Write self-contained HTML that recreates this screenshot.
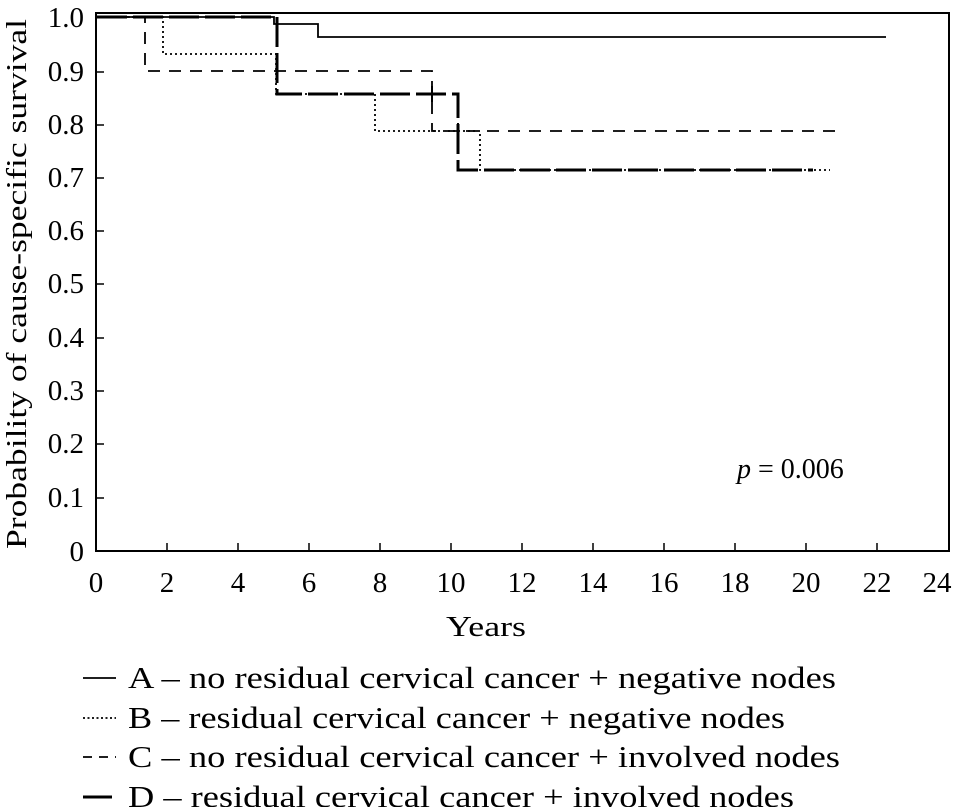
<!DOCTYPE html>
<html><head><style>body{margin:0;background:#fff}</style></head><body>
<svg width="954" height="807" xmlns="http://www.w3.org/2000/svg" font-family="Liberation Serif, serif" fill="#000">
<rect x="96" y="13" width="853" height="538" fill="none" stroke="#000" stroke-width="2"/>
<g stroke="#000" stroke-width="1.5">
<line x1="96" y1="498" x2="104" y2="498"/><line x1="96" y1="444" x2="104" y2="444"/><line x1="96" y1="391" x2="104" y2="391"/><line x1="96" y1="338" x2="104" y2="338"/><line x1="96" y1="284" x2="104" y2="284"/><line x1="96" y1="231" x2="104" y2="231"/><line x1="96" y1="178" x2="104" y2="178"/><line x1="96" y1="125" x2="104" y2="125"/><line x1="96" y1="72" x2="104" y2="72"/>
<line x1="167" y1="551" x2="167" y2="543"/><line x1="238" y1="551" x2="238" y2="543"/><line x1="309" y1="551" x2="309" y2="543"/><line x1="380" y1="551" x2="380" y2="543"/><line x1="451" y1="551" x2="451" y2="543"/><line x1="522" y1="551" x2="522" y2="543"/><line x1="593" y1="551" x2="593" y2="543"/><line x1="664" y1="551" x2="664" y2="543"/><line x1="735" y1="551" x2="735" y2="543"/><line x1="806" y1="551" x2="806" y2="543"/><line x1="877" y1="551" x2="877" y2="543"/>
</g>
<g font-size="29" text-anchor="end">
<text x="84" y="27">1.0</text><text x="84" y="81">0.9</text><text x="84" y="134">0.8</text><text x="84" y="187">0.7</text><text x="84" y="240">0.6</text><text x="84" y="293">0.5</text><text x="84" y="347">0.4</text><text x="84" y="400">0.3</text><text x="84" y="453">0.2</text><text x="84" y="507">0.1</text><text x="84" y="561">0</text>
</g>
<g font-size="29" text-anchor="middle">
<text x="96" y="592">0</text><text x="167" y="592">2</text><text x="238" y="592">4</text><text x="309" y="592">6</text><text x="380" y="592">8</text><text x="451" y="592">10</text><text x="522" y="592">12</text><text x="593" y="592">14</text><text x="664" y="592">16</text><text x="735" y="592">18</text><text x="806" y="592">20</text><text x="877" y="592">22</text><text x="937" y="592">24</text>
<text x="486" y="636" textLength="80" lengthAdjust="spacingAndGlyphs">Years</text>
<text transform="translate(26,284) rotate(-90)" textLength="530" lengthAdjust="spacingAndGlyphs">Probability of cause-specific survival</text>
</g>
<text x="737" y="478" font-size="28"><tspan font-style="italic">p</tspan> = 0.006</text>
<g fill="none" stroke="#000">
<path d="M97 17H274V24H318V37H886" stroke-width="1.8"/>
<path d="M97 17H163V54H276V94H375V131H480V170H830" stroke-width="1.8" stroke-dasharray="2,3"/>
<path d="M97 17H145V71H432V131H837" stroke-width="1.8" stroke-dasharray="12,9"/>
<path d="M97 17H277V94H458V170H813" stroke-width="3" stroke-dasharray="30,6"/>
<line x1="432" y1="86" x2="432" y2="102" stroke-width="2"/>
<line x1="458" y1="123" x2="458" y2="139" stroke-width="2"/>
</g>
<g stroke="#000" fill="none">
<line x1="83" y1="678" x2="116" y2="678" stroke-width="1.8"/>
<line x1="83" y1="718" x2="116" y2="718" stroke-width="1.8" stroke-dasharray="2,2.5"/>
<line x1="83" y1="757" x2="116" y2="757" stroke-width="1.8" stroke-dasharray="9,7"/>
<line x1="83" y1="797" x2="112" y2="797" stroke-width="3"/>
</g>
<g font-size="31">
<text x="128" y="688" textLength="708" lengthAdjust="spacingAndGlyphs">A – no residual cervical cancer + negative nodes</text>
<text x="128" y="728" textLength="657" lengthAdjust="spacingAndGlyphs">B – residual cervical cancer + negative nodes</text>
<text x="128" y="767" textLength="712" lengthAdjust="spacingAndGlyphs">C – no residual cervical cancer + involved nodes</text>
<text x="128" y="807" textLength="666" lengthAdjust="spacingAndGlyphs">D – residual cervical cancer + involved nodes</text>
</g>
</svg>
</body></html>
